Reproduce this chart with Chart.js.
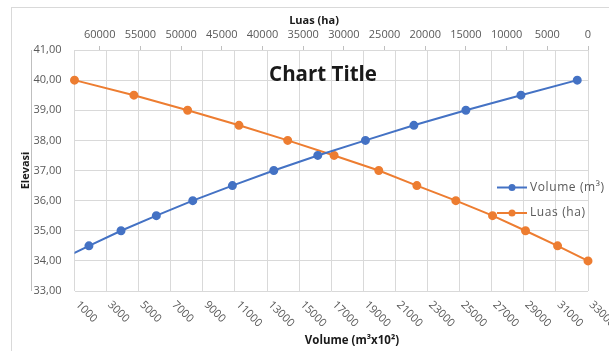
<!DOCTYPE html>
<html>
<head>
<meta charset="utf-8">
<script src="https://cdn.jsdelivr.net/npm/chart.js@4.4.1/dist/chart.umd.min.js"></script>
<style>
  html, body { margin: 0; padding: 0; background: #fff; overflow: hidden; }
  #wrap { position: relative; width: 609px; height: 351px; }
  #frame { position: absolute; left: 11px; top: 7px; width: 700px; height: 400px; border: 1px solid #d9d9d9; }
  #myChart_elev { position: absolute; left: 0; top: 0; }
</style>
</head>
<body>
<div id="wrap">
  <div id="frame"></div>
  <canvas id="myChart_elev" width="609" height="351"></canvas>
</div>
<script>
// data
var elevasi = [34, 34.5, 35, 35.5, 36, 36.5, 37, 37.5, 38, 38.5, 39, 39.5, 40];
var volume = [0, 1900, 3900, 6100, 8370, 10840, 13420, 16160, 19130, 22150, 25390, 28820, 32330];
var luas = [0, 3740, 7680, 11730, 16240, 21030, 25710, 31200, 36900, 42890, 49200, 55800, 63100];

// batas dan tick sumbu
var volMin = 1000, volMax = 33000, volStep = 2000;
var luasMin = 0, luasMax = 63100;
var luasTicks = [0, 5000, 10000, 15000, 20000, 25000, 30000, 35000, 40000, 45000, 50000, 55000, 60000];
var elevMin = 33, elevMax = 41;

var grey = '#595959';
var gridCol = '#d9d9d9';
Chart.defaults.font.family = 'Open Sans';

function pts(xs) {
  return xs.map(function (v, i) { return {x: v, y: elevasi[i]}; });
}

// judul, legenda, label miring ala excel
var excelBits = {
  id: 'excelBits',
  afterDraw: function (chart) {
    var c = chart.ctx, a = chart.chartArea, xs = chart.scales.x;
    c.save();
    // garis sumbu kiri
    c.strokeStyle = '#bfbfbf';
    c.lineWidth = 1;
    c.beginPath(); c.moveTo(31.5, a.top); c.lineTo(31.5, a.bottom); c.stroke();

    // label volume miring
    c.fillStyle = grey;
    c.font = '11px "Open Sans"';
    c.textAlign = 'left';
    c.textBaseline = 'middle';
    xs.ticks.forEach(function (t) {
      var px = xs.getPixelForValue(t.value);
      c.save();
      c.translate(px + 3, a.bottom + 12);
      c.rotate(Math.PI / 4);
      c.fillText(String(t.value), 0, 0);
      c.restore();
    });

    // judul sumbu
    c.fillStyle = '#1a1a1a';
    c.textAlign = 'center';
    c.font = 'bold 11.5px "Open Sans"';
    c.fillText('Volume (m³x10²)', 352, 341);
    c.font = 'bold 11px "Open Sans"';
    c.fillText('Luas (ha)', 314, 21);

    // judul chart
    c.font = 'bold 20.5px "Open Sans"';
    c.fillText('Chart Title', 323, 75);

    // legenda
    c.font = '12px "Open Sans"';
    c.letterSpacing = '0.6px';
    c.textAlign = 'left';
    chart.data.datasets.forEach(function (ds, i) {
      var y = 187.5 + i * 25.5;
      c.strokeStyle = ds.borderColor;
      c.lineWidth = 2;
      c.beginPath(); c.moveTo(497, y); c.lineTo(527, y); c.stroke();
      c.fillStyle = ds.backgroundColor;
      c.beginPath(); c.arc(512, y, 3.5, 0, Math.PI * 2); c.fill();
      c.fillStyle = grey;
      c.fillText(ds.label, 530, y);
    });
    c.restore();
  }
};

var ctx = document.getElementById("myChart_elev").getContext('2d');
var myChart_elev = new Chart(ctx, {
  type: 'scatter',
  data: {
    datasets: [{
      label: "Volume (m³)",
      data: pts(volume),
      xAxisID: 'x',
      showLine: true,
      borderColor: '#4472c4',
      backgroundColor: '#4472c4',
      borderWidth: 2,
      pointRadius: 3.5,
      pointHoverRadius: 3.5
    }, {
      label: "Luas (ha)",
      data: pts(luas),
      xAxisID: 'x2',
      showLine: true,
      borderColor: '#ed7d31',
      backgroundColor: '#ed7d31',
      borderWidth: 2,
      pointRadius: 3.5,
      pointHoverRadius: 3.5,
      clip: 6
    }]
  },
  options: {
    responsive: false,
    animation: false,
    layout: {
      padding: { right: 21 }
    },
    plugins: {
      legend: { display: false },
      title: { display: false },
      tooltip: { enabled: false }
    },
    scales: {
      x: {
        type: 'linear',
        position: 'bottom',
        min: volMin,
        max: volMax,
        ticks: {
          stepSize: volStep,
          display: false,
          callback: function (v) { return String(v); }
        },
        grid: { color: gridCol, drawTicks: false },
        border: { display: false },
        afterFit: function (s) { s.height = 60; }
      },
      x2: {
        type: 'linear',
        axis: 'x',
        position: 'top',
        reverse: true,
        min: luasMin,
        max: luasMax,
        afterBuildTicks: function (s) {
          s.ticks = luasTicks.map(function (v) { return {value: v}; });
        },
        ticks: {
          autoSkip: false,
          maxRotation: 0,
          padding: 5,
          color: grey,
          font: { size: 11 },
          callback: function (v) { return String(v); }
        },
        grid: { drawOnChartArea: false, drawTicks: true, tickLength: 4, color: '#bfbfbf' },
        border: { display: true, color: gridCol },
        afterFit: function (s) { s.height = 50; }
      },
      y: {
        min: elevMin,
        max: elevMax,
        ticks: {
          stepSize: 1,
          padding: 13,
          color: grey,
          font: { size: 11 },
          callback: function (v) { return v.toFixed(2).replace('.', ','); }
        },
        grid: { color: gridCol, drawTicks: false },
        border: { display: false },
        title: {
          display: true,
          text: 'Elevasi',
          color: '#1a1a1a',
          font: { size: 11, weight: 'bold' },
          padding: { top: 19, bottom: 0 }
        },
        afterFit: function (s) { s.width = 74.5; }
      }
    }
  },
  plugins: [excelBits]
});
</script>
</body>
</html>
